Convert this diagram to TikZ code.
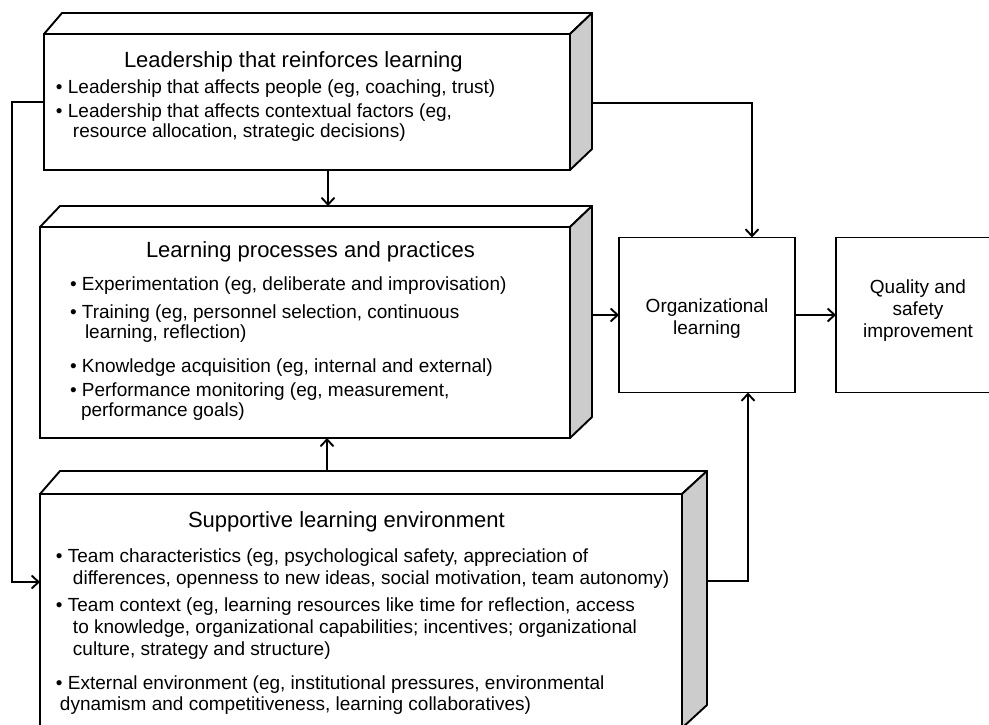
\documentclass[tikz,border=0pt]{standalone}
\usepackage{fontspec}
\setmainfont{Liberation Sans}
\usetikzlibrary{arrows.meta,calc}
\definecolor{sidegray}{HTML}{CCCCCC}
\begin{document}
\begin{tikzpicture}[x=1pt,y=-1pt,
  lw/.style={line width=1.9pt},
  front/.style={draw, lw, fill=white, rectangle, inner sep=0pt, outer sep=0pt},
  topface/.style={draw, lw, fill=white, line join=round},
  sideface/.style={draw, lw, fill=sidegray, line join=round},
  conn/.style={lw, -{Straight Barb[length=7pt,width=13pt]}},
  item/.style={anchor=base west, inner sep=0pt, outer sep=0pt, align=left, font=\fontsize{19}{20}\selectfont},
  itemw/.style={item, font=\fontsize{19}{22}\selectfont},
  ttl/.style={anchor=base west, inner sep=0pt, outer sep=0pt, font=\fontsize{22}{26}\selectfont},
  lbl/.style={anchor=base, inner sep=0pt, outer sep=0pt, align=center, font=\fontsize{19}{22}\selectfont}]
\useasboundingbox (0,0) rectangle (989,725);

% ---------- Box 1 ----------
\node[front, minimum width=526pt, minimum height=136pt] (b1) at (307,102) {};
\draw[topface] (b1.north west) -- ++(18,-21) -- ($(b1.north east)+(22,-21)$) -- (b1.north east) -- cycle;
\draw[sideface] (b1.north east) -- ++(22,-21) -- ($(b1.south east)+(22,-21)$) -- (b1.south east) -- cycle;
\node[ttl] (t1) at (124,68) {Leadership that reinforces learning};
\node[item] (i11) at (56,94) {• Leadership that affects people (eg, coaching, trust)};
\node[item] (i12) at (56,137) {• Leadership that affects contextual factors (eg,\\\hspace*{17pt}resource allocation, strategic decisions)};

% ---------- Box 2 ----------
\node[front, minimum width=530pt, minimum height=211pt] (b2) at (305,332.5) {};
\draw[topface] (b2.north west) -- ++(20,-21) -- ($(b2.north east)+(22,-21)$) -- (b2.north east) -- cycle;
\draw[sideface] (b2.north east) -- ++(22,-21) -- ($(b2.south east)+(22,-21)$) -- (b2.south east) -- cycle;
\node[ttl] (t2) at (146,257) {Learning processes and practices};
\node[item] (i21) at (70,290) {• Experimentation (eg, deliberate and improvisation)};
\node[item] (i22) at (70,338) {• Training (eg, personnel selection, continuous\\\hspace*{15pt}learning, reflection)};
\node[item] (i23) at (70,372) {• Knowledge acquisition (eg, internal and external)};
\node[item] (i24) at (70,416) {• Performance monitoring (eg, measurement,\\\hspace*{11pt}performance goals)};

% ---------- Box 3 ----------
\node[front, minimum width=642pt, minimum height=234pt] (b3) at (361,611) {};
\draw[topface] (b3.north west) -- ++(20,-23) -- ($(b3.north east)+(25,-23)$) -- (b3.north east) -- cycle;
\draw[sideface] (b3.north east) -- ++(25,-23) -- ($(b3.south east)+(25,-23)$) -- (b3.south east) -- cycle;
\node[ttl] (t3) at (188,527) {Supportive learning environment};
\node[itemw] (i31) at (56,584) {• Team characteristics (eg, psychological safety, appreciation of\\\hspace*{17pt}differences, openness to new ideas, social motivation, team autonomy)};
\node[itemw] (i32) at (56,655) {• Team context (eg, learning resources like time for reflection, access\\\hspace*{17pt}to knowledge, organizational capabilities; incentives; organizational\\\hspace*{17pt}culture, strategy and structure)};
\node[item, font=\fontsize{19}{21}\selectfont] (i33) at (56,710) {• External environment (eg, institutional pressures, environmental\\\hspace*{4pt}dynamism and competitiveness, learning collaboratives)};

% ---------- Right boxes ----------
\node[front, minimum width=176pt, minimum height=155pt] (org) at (707,315) {};
\node[lbl] (orgt) at (707,334) {Organizational\\learning};
\node[front, minimum width=164pt, minimum height=155pt] (qual) at (918,315) {};
\node[lbl] (qualt) at (918,337) {Quality and\\safety\\improvement};

% ---------- connector end points ----------
\coordinate (b1r) at (592,103);
\coordinate (b1b) at (328,170);
\coordinate (b2t) at (328,206);
\coordinate (b2b) at (327,438);
\coordinate (b3t) at (327,471);
\coordinate (b2r) at (592,315);
\coordinate (b3l) at (40,582);
\coordinate (b3r) at (707,581);
\coordinate (orgtop) at (752,237.5);
\coordinate (orgbot) at (748,392.5);

% ---------- connectors ----------
\draw[conn] (b1.west) -- ++(-32,0) |- (b3l);
\draw[conn] (b1r) -| (orgtop);
\draw[conn] (b1b) -- (b2t);
\draw[conn] (b3t) -- (b2b);
\draw[conn] (b2r) -- (org.west);
\draw[conn] (org.east) -- (qual.west);
\draw[conn] (b3r) -| (orgbot);
\end{tikzpicture}
\end{document}
